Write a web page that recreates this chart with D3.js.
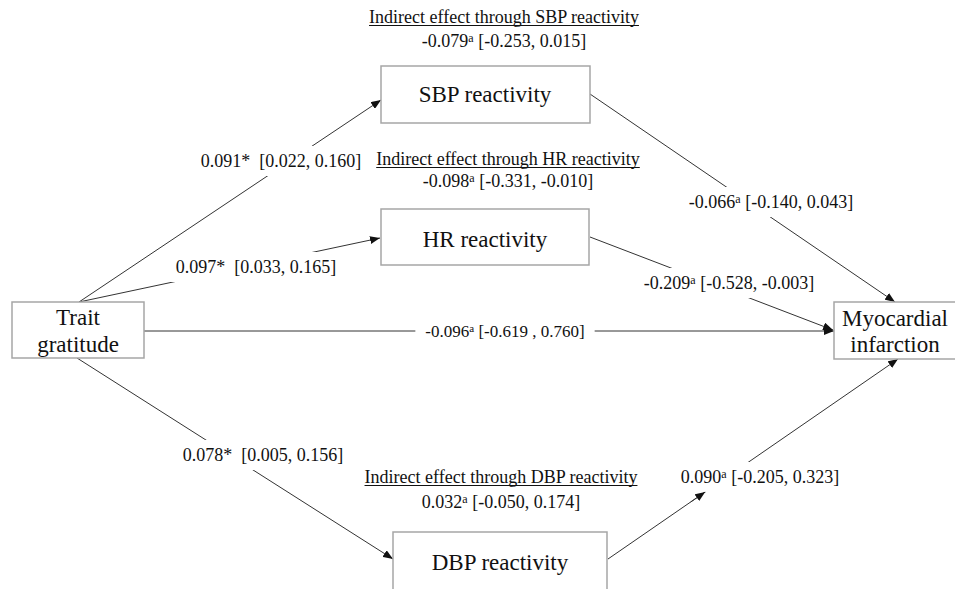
<!DOCTYPE html>
<html>
<head>
<meta charset="utf-8">
<script src="https://cdn.jsdelivr.net/npm/d3@7"></script>
<style>
  body { margin: 0; background: #fff; }
  text { font-family: "Liberation Serif", "Times New Roman", serif; fill: #111; white-space: pre; }
</style>
</head>
<body>
<svg id="diagram"></svg>
<script>
// values
var nodeLines = [["Trait", "gratitude"], ["SBP reactivity"], ["HR reactivity"], ["DBP reactivity"], ["Myocardial", "infarction"]];

var edgeFrom = [0, 0, 0, 1, 2, 3, 0];
var edgeTo   = [1, 2, 3, 4, 4, 4, 4];
var edgeEst   = [0.091, 0.097, 0.078, -0.066, -0.209, 0.090, -0.096];
var edgeLower = [0.022, 0.033, 0.005, -0.140, -0.528, -0.205, -0.619];
var edgeUpper = [0.160, 0.165, 0.156, 0.043, -0.003, 0.323, 0.760];
var edgeMark  = ["*", "*", "*", "a", "a", "a", "a"];
var edgeSep   = [", ", ", ", ", ", ", ", ", ", ", ", " , "];

var indirectNames = ["SBP reactivity", "HR reactivity", "DBP reactivity"];
var indirectEst   = [-0.079, -0.098, 0.032];
var indirectLower = [-0.253, -0.331, -0.050];
var indirectUpper = [0.015, -0.010, 0.174];

// layout
var width = 955, height = 589;
var boxes = [
  {x: 12, y: 302, w: 132, h: 56, cx: 78, base: [325, 352]},
  {x: 381, y: 66, w: 209, h: 57, cx: 485, base: [102]},
  {x: 381, y: 209, w: 208, h: 56, cx: 485, base: [247]},
  {x: 393, y: 532, w: 214, h: 70, cx: 500, base: [570]},
  {x: 834, y: 302, w: 123, h: 57, cx: 895, base: [326, 352]}
];
var edgeStart = [[79, 302], [79, 302], [77, 358], [590, 94], [590, 237], [608, 559], [144, 331]];
var edgeEnd   = [[381, 100], [380, 238], [393, 559], [895, 302], [833, 330], [898, 359], [834, 331]];
var labelPos  = [[281, 167], [256, 273], [263, 461], [771, 208], [729, 289], [760, 483], [505, 337]];
var labelSize = [18, 18, 18, 18, 18, 18, 17];
var extraArrow = [false, false, false, false, false, true, false];
var headerBase = [[23, 47], [165, 187], [483, 508]];
var headerX = [504, 508, 501];

var fmt = d3.formatLocale({decimal: ".", thousands: ",", grouping: [3], currency: ["", ""], minus: "-"}).format(".3f");

var svg = d3.select("#diagram").attr("width", width).attr("height", height);

svg.append("defs").append("marker")
    .attr("id", "arrow")
    .attr("markerUnits", "userSpaceOnUse")
    .attr("markerWidth", 11).attr("markerHeight", 8)
    .attr("refX", 10).attr("refY", 4)
    .attr("orient", "auto")
  .append("path")
    .attr("d", "M0,0L10,4L0,8Z")
    .attr("fill", "#111");

// edges
var edges = svg.append("g");
edgeFrom.forEach(function(f, i) {
    edges.append("line")
        .attr("x1", edgeStart[i][0]).attr("y1", edgeStart[i][1])
        .attr("x2", edgeEnd[i][0]).attr("y2", edgeEnd[i][1])
        .attr("stroke", "#333").attr("stroke-width", 1)
        .attr("marker-end", "url(#arrow)");
});

// boxes (myocardial one runs off the right edge)
var nodes = svg.append("g");
boxes.forEach(function(b, i) {
    nodes.append("rect")
        .attr("x", b.x).attr("y", b.y).attr("width", b.w).attr("height", b.h)
        .attr("fill", "#fff").attr("stroke", "#a6a6a6").attr("stroke-width", 1.5);
    nodeLines[i].forEach(function(t, j) {
        nodes.append("text")
            .attr("x", b.cx).attr("y", b.base[j])
            .attr("text-anchor", "middle")
            .style("font-size", "23px")
            .text(t);
    });
});

function addSup(sel, mark, size) {
    if (mark == "a") {
        sel.append("tspan").attr("dy", -5).style("font-size", Math.round(size * 0.65) + "px").text("a");
        sel.append("tspan").attr("dy", 5).text(" ");
    } else {
        sel.append("tspan").text(mark + "  ");
    }
}

// edge labels with white backing so the line breaks around them
var labels = svg.append("g");
edgeFrom.forEach(function(f, i) {
    var g = labels.append("g");
    var t = g.append("text")
        .attr("x", labelPos[i][0]).attr("y", labelPos[i][1])
        .attr("text-anchor", "middle")
        .style("font-size", labelSize[i] + "px");
    t.append("tspan").text(fmt(edgeEst[i]));
    addSup(t, edgeMark[i], labelSize[i]);
    t.append("tspan").text("[" + fmt(edgeLower[i]) + edgeSep[i] + fmt(edgeUpper[i]) + "]");
    var bb = t.node().getBBox();
    var padX = i == 6 ? 10 : 5, padY = 5;
    var r = {x0: bb.x - padX, y0: bb.y - padY, x1: bb.x + bb.width + padX, y1: bb.y + bb.height + padY};
    g.insert("rect", "text")
        .attr("x", r.x0).attr("y", r.y0)
        .attr("width", r.x1 - r.x0).attr("height", r.y1 - r.y0)
        .attr("fill", "#fff");

    if (extraArrow[i]) {
        // find where the line enters the label box and put an arrowhead there
        var p0 = edgeStart[i], p1 = edgeEnd[i];
        var dx = p1[0] - p0[0], dy = p1[1] - p0[1];
        var tEnter = 0;
        [[-dx, p0[0] - r.x0], [dx, r.x1 - p0[0]], [-dy, p0[1] - r.y0], [dy, r.y1 - p0[1]]].forEach(function(pq) {
            if (pq[0] < 0) tEnter = Math.max(tEnter, pq[1] / pq[0]);
        });
        var ex = p0[0] + dx * tEnter, ey = p0[1] + dy * tEnter;
        labels.append("line")
            .attr("x1", ex - dx * 0.05).attr("y1", ey - dy * 0.05)
            .attr("x2", ex).attr("y2", ey)
            .attr("stroke", "#333").attr("stroke-width", 1)
            .attr("marker-end", "url(#arrow)");
    }
});

// indirect effect headers
var headers = svg.append("g");
indirectNames.forEach(function(n, i) {
    var h = headers.append("text")
        .attr("x", headerX[i]).attr("y", headerBase[i][0])
        .attr("text-anchor", "middle")
        .style("font-size", "18px")
        .text("Indirect effect through " + n);
    var bb = h.node().getBBox();
    headers.append("line")
        .attr("x1", bb.x).attr("x2", bb.x + bb.width)
        .attr("y1", headerBase[i][0] + 2.5).attr("y2", headerBase[i][0] + 2.5)
        .attr("stroke", "#111").attr("stroke-width", 1);

    var v = headers.append("text")
        .attr("x", headerX[i]).attr("y", headerBase[i][1])
        .attr("text-anchor", "middle")
        .style("font-size", "18px");
    v.append("tspan").text(fmt(indirectEst[i]));
    addSup(v, "a", 18);
    v.append("tspan").text("[" + fmt(indirectLower[i]) + ", " + fmt(indirectUpper[i]) + "]");
});
</script>
</body>
</html>
